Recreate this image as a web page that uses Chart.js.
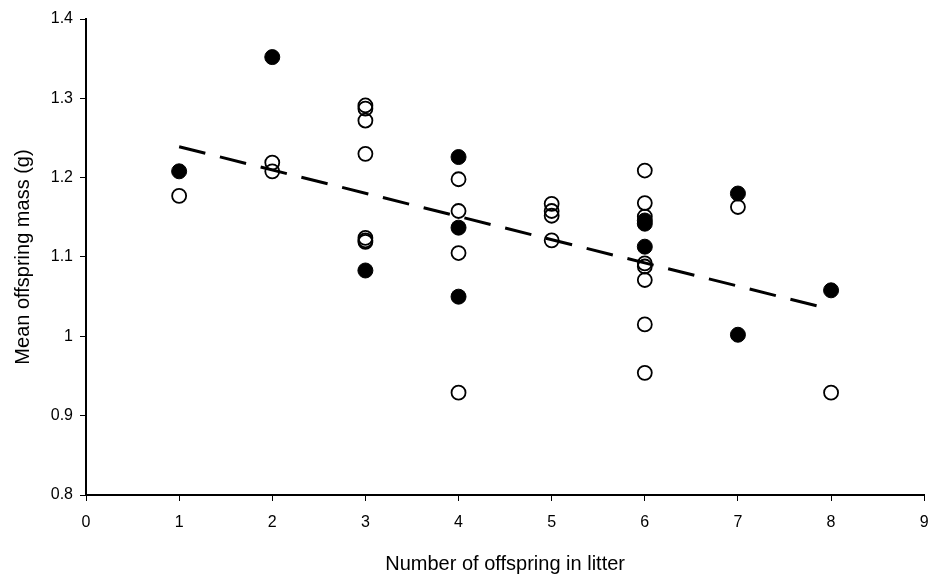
<!DOCTYPE html>
<html>
<head>
<meta charset="utf-8">
<script src="https://cdn.jsdelivr.net/npm/chart.js@4.4.1/dist/chart.umd.min.js"></script>
<style>
  html, body { margin: 0; padding: 0; background: #fff; overflow: hidden; }
  #wrap { width: 933px; height: 577px; }
  canvas { display: block; }
</style>
</head>
<body>
<div id="wrap"><canvas id="scatterChart"></canvas></div>
<script>
// litters marked with filled circles
var filledLitter = [1, 2, 3, 4, 4, 4, 6, 6, 6, 7, 7, 8];
var filledMass   = [1.208, 1.352, 1.083, 1.226, 1.137, 1.050, 1.146, 1.142, 1.113, 1.180, 1.002, 1.058];

// litters marked with open circles
var openLitter = [1, 2, 2, 3, 3, 3, 3, 3, 3, 3, 4, 4, 4, 4, 5, 5, 5, 5, 6, 6, 6, 6, 6, 6, 6, 6, 7, 8];
var openMass   = [1.177, 1.219, 1.208, 1.291, 1.287, 1.272, 1.230, 1.124, 1.121, 1.119,
                  1.198, 1.158, 1.105, 0.929, 1.167, 1.158, 1.152, 1.121,
                  1.209, 1.168, 1.151, 1.092, 1.088, 1.071, 1.015, 0.954, 1.163, 0.929];

// fitted trend line
var trendLitter = [1, 8];
var trendMass   = [1.239, 1.034];

var xTicks = [0, 1, 2, 3, 4, 5, 6, 7, 8, 9];
var yTicks = [0.8, 0.9, 1, 1.1, 1.2, 1.3, 1.4];

function toPoints(xs, ys) {
  return xs.map(function (x, i) { return { x: x, y: ys[i] }; });
}

var tickFont = { family: '"Liberation Sans", Arial, sans-serif', size: 16 };
var titleFont = { family: '"Liberation Sans", Arial, sans-serif', size: 20 };

var ctx = document.getElementById('scatterChart').getContext('2d');
var chart = new Chart(ctx, {
  type: 'scatter',
  data: {
    datasets: [{
      label: 'Trend',
      type: 'line',
      data: toPoints(trendLitter, trendMass),
      borderColor: '#000',
      borderWidth: 3,
      borderDash: [27, 15],
      pointRadius: 0,
      fill: false,
      order: 0
    }, {
      label: 'Filled',
      data: toPoints(filledLitter, filledMass),
      pointRadius: 7.5,
      pointBackgroundColor: '#000',
      pointBorderColor: '#000',
      pointBorderWidth: 1,
      order: 1
    }, {
      label: 'Open',
      data: toPoints(openLitter, openMass),
      pointRadius: 7,
      pointBackgroundColor: 'rgba(255,255,255,0)',
      pointBorderColor: '#000',
      pointBorderWidth: 1.8,
      order: 2
    }]
  },
  options: {
    responsive: true,
    maintainAspectRatio: false,
    animation: false,
    layout: { padding: { top: 19, right: 5, left: 0, bottom: 0 } },
    plugins: {
      legend: { display: false },
      tooltip: { enabled: false }
    },
    scales: {
      x: {
        type: 'linear',
        min: 0,
        max: 9,
        afterBuildTicks: function (scale) {
          scale.ticks = xTicks.map(function (v) { return { value: v }; });
        },
        afterFit: function (scale) {
          scale.height = 82;
          scale.paddingLeft = 0;
          scale.paddingRight = 0;
        },
        border: { display: true, color: '#000', width: 2 },
        grid: { display: true, drawOnChartArea: false, drawTicks: true, tickLength: 6, color: '#000', lineWidth: 1 },
        ticks: { color: '#000', font: tickFont, padding: 12, maxRotation: 0 },
        title: { display: true, text: 'Number of offspring in litter', color: '#000', font: titleFont, padding: 1 }
      },
      y: {
        type: 'linear',
        min: 0.8,
        max: 1.4,
        afterBuildTicks: function (scale) {
          scale.ticks = yTicks.map(function (v) { return { value: v }; });
        },
        afterFit: function (scale) {
          scale.width = 86;
          scale.paddingTop = 0;
          scale.paddingBottom = 0;
        },
        border: { display: true, color: '#000', width: 2 },
        grid: { display: true, drawOnChartArea: false, drawTicks: true, tickLength: 6, color: '#000', lineWidth: 1 },
        ticks: {
          color: '#000',
          font: tickFont,
          padding: 7,
          callback: function (v) { return String(Math.round(v * 10) / 10); }
        },
        title: { display: true, text: 'Mean offspring mass (g)', color: '#000', font: titleFont, padding: 11 }
      }
    }
  }
});
</script>
</body>
</html>
